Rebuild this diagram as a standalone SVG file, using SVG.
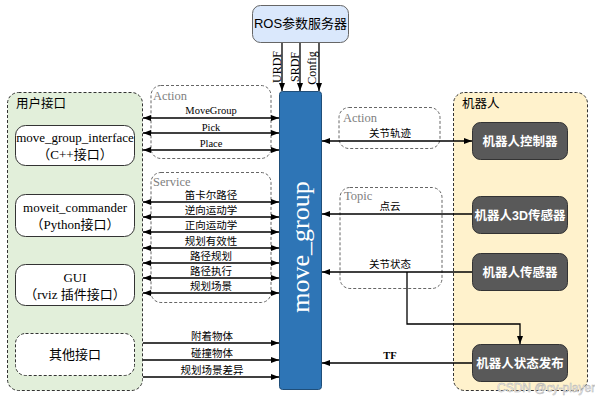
<svg xmlns="http://www.w3.org/2000/svg" width="595" height="404" viewBox="0 0 595 404">
<style>
.sans{font-family:"Liberation Sans","Noto Sans CJK SC",sans-serif}
.serif{font-family:"Liberation Serif","Noto Sans CJK SC",serif}
.lbl{font-size:10.5px;fill:#000;text-anchor:middle}
.grp{fill:none;stroke:#666;stroke-width:1;stroke-dasharray:3,2}
.ln{stroke:#000;stroke-width:1.3;fill:none}
.bi{marker-start:url(#ah);marker-end:url(#ah)}
.one{marker-end:url(#ah)}
.wbox{fill:#fff;stroke:#333;stroke-width:1}
.dbox{fill:#595959;stroke:#333;stroke-width:1}
.dtxt{font-size:12.5px;font-weight:bold;fill:#fff;text-anchor:middle}
.ntxt{font-size:13px;fill:#000;text-anchor:middle}
.gl{font-size:12.5px;fill:#808080}
</style>
<defs>
<marker id="ah" markerUnits="userSpaceOnUse" markerWidth="8" markerHeight="6" refX="8" refY="3" orient="auto-start-reverse">
<path d="M0,0 L8,3 L0,6 z" fill="#000"/>
</marker>
</defs>
<rect width="595" height="404" fill="#fff"/>

<g id="user-panel">
<rect x="7.5" y="92.5" width="135" height="298" rx="11" fill="#e2efda" stroke="#333" stroke-dasharray="3,2"/>
<text x="16" y="108" class="sans" font-size="12.5">用户接口</text>
</g>
<g id="robot-panel">
<rect x="453.5" y="92.5" width="134" height="298" rx="11" fill="#fff2cc" stroke="#333" stroke-dasharray="3,2"/>
<text x="462" y="108" class="sans" font-size="12.5">机器人</text>
</g>

<g id="action-left"><rect x="151" y="85.5" width="120" height="73" rx="10" class="grp"/><text x="153" y="100" class="serif gl">Action</text></g>
<g id="service-left"><rect x="151" y="172.5" width="120" height="130" rx="10" class="grp"/><text x="153" y="186" class="serif gl">Service</text></g>
<g id="action-right"><rect x="339" y="107.5" width="101" height="41" rx="10" class="grp"/><text x="343" y="122" class="serif gl">Action</text></g>
<g id="topic-right"><rect x="340" y="187.5" width="102" height="101" rx="10" class="grp"/><text x="344" y="200" class="serif gl">Topic</text></g>

<g id="ros-param">
<rect x="252.5" y="5.5" width="96" height="37" rx="8" fill="#dae8fc" stroke="#666"/>
<text x="300.5" y="28" class="sans ntxt" font-size="12">ROS参数服务器</text>
</g>

<g id="move-group">
<rect x="279.5" y="91.5" width="42" height="298" rx="3" fill="#2e75b6" stroke="#1f4e79"/>
<text transform="translate(309,247) rotate(-90)" class="serif" font-size="26" fill="#fff" text-anchor="middle">move_group</text>
</g>

<g id="move-group-interface">
<rect x="15.5" y="125.5" width="119" height="40" rx="10" class="wbox"/>
<text x="75" y="142" class="serif ntxt">move_group_interface</text>
<text x="75" y="159" class="serif ntxt">（C++接口）</text>
</g>
<g id="moveit-commander">
<rect x="15.5" y="194.5" width="119" height="42" rx="10" class="wbox"/>
<text x="75" y="212" class="serif ntxt">moveit_commander</text>
<text x="75" y="229" class="serif ntxt">（Python接口）</text>
</g>
<g id="gui">
<rect x="15.5" y="264.5" width="119" height="41" rx="10" class="wbox"/>
<text x="75" y="282" class="serif ntxt">GUI</text>
<text x="75" y="299" class="serif ntxt">（rviz 插件接口）</text>
</g>
<g id="other-interface">
<rect x="15.5" y="333.5" width="119" height="42" rx="10" fill="#fff" stroke="#333" stroke-dasharray="3,2"/>
<text x="75" y="359" class="sans ntxt">其他接口</text>
</g>

<g id="robot-controller"><rect x="472.5" y="122.5" width="95" height="37" rx="8" class="dbox"/><text x="520" y="145.5" class="sans dtxt">机器人控制器</text></g>
<g id="robot-3d-sensor"><rect x="472.5" y="196.5" width="95" height="37" rx="8" class="dbox"/><text x="520" y="219.5" class="sans dtxt">机器人3D传感器</text></g>
<g id="robot-sensor"><rect x="472.5" y="253.5" width="95" height="37" rx="8" class="dbox"/><text x="520" y="276.5" class="sans dtxt">机器人传感器</text></g>
<g id="robot-state-pub"><rect x="472.5" y="344.5" width="95" height="37" rx="8" class="dbox"/><text x="520" y="367.5" class="sans dtxt">机器人状态发布</text></g>

<g id="connectors">
<line x1="282" y1="43" x2="282" y2="91" class="ln one"/>
<line x1="300" y1="43" x2="300" y2="91" class="ln one"/>
<line x1="319" y1="43" x2="319" y2="91" class="ln one"/>
<text transform="translate(281,67) rotate(-90)" class="serif" font-size="12" text-anchor="middle">URDF</text>
<text transform="translate(299,67) rotate(-90)" class="serif" font-size="12" text-anchor="middle">SRDF</text>
<text transform="translate(316,68) rotate(-90)" class="serif" font-size="12" text-anchor="middle">Config</text>

<line x1="143" y1="118" x2="279" y2="118" class="ln bi"/>
<line x1="143" y1="133" x2="279" y2="133" class="ln bi"/>
<line x1="143" y1="150" x2="279" y2="150" class="ln bi"/>
<text x="211" y="114" class="serif lbl">MoveGroup</text>
<text x="211" y="131" class="serif lbl">Pick</text>
<text x="211" y="147" class="serif lbl">Place</text>

<line x1="143" y1="202" x2="279" y2="202" class="ln bi"/>
<line x1="143" y1="217" x2="279" y2="217" class="ln bi"/>
<line x1="143" y1="232" x2="279" y2="232" class="ln bi"/>
<line x1="143" y1="248" x2="279" y2="248" class="ln bi"/>
<line x1="143" y1="263" x2="279" y2="263" class="ln bi"/>
<line x1="143" y1="278" x2="279" y2="278" class="ln bi"/>
<line x1="143" y1="293" x2="279" y2="293" class="ln bi"/>
<text x="211" y="199" class="sans lbl">笛卡尔路径</text>
<text x="211" y="214" class="sans lbl">逆向运动学</text>
<text x="211" y="229" class="sans lbl">正向运动学</text>
<text x="211" y="245" class="sans lbl">规划有效性</text>
<text x="211" y="260" class="sans lbl">路径规划</text>
<text x="211" y="275" class="sans lbl">路径执行</text>
<text x="211" y="290" class="sans lbl">规划场景</text>

<line x1="143" y1="343" x2="279" y2="343" class="ln one"/>
<line x1="143" y1="360" x2="279" y2="360" class="ln one"/>
<line x1="143" y1="377" x2="279" y2="377" class="ln one"/>
<text x="212" y="340" class="sans lbl">附着物体</text>
<text x="212" y="357" class="sans lbl">碰撞物体</text>
<text x="212" y="374" class="sans lbl">规划场景差异</text>

<line x1="322" y1="141" x2="472" y2="141" class="ln bi"/>
<text x="390" y="137" class="sans lbl">关节轨迹</text>
<line x1="472" y1="214" x2="322" y2="214" class="ln one"/>
<text x="390" y="210" class="sans lbl">点云</text>
<line x1="472" y1="272" x2="322" y2="272" class="ln one"/>
<text x="390" y="268" class="sans lbl">关节状态</text>
<polyline points="407,272 407,324 520,324 520,344" class="ln one"/>
<line x1="472" y1="363" x2="322" y2="363" class="ln one"/>
<text x="390" y="359" class="serif lbl" font-weight="bold">TF</text>
</g>

<text x="497" y="392" class="sans" font-size="12" fill="#fff" stroke="#aaa" stroke-width="0.5" opacity="0.9">CSDN @cy-player</text>
</svg>
